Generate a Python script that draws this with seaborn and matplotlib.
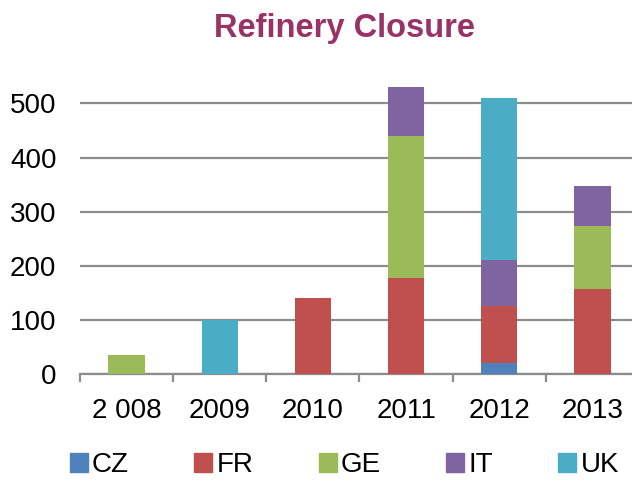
import matplotlib
matplotlib.use("Agg")
import matplotlib.pyplot as plt
import matplotlib.patches as mpatches
import seaborn as sns
import numpy as np
import pandas as pd

# data (bottom-to-top stacking order)
years = ["2 008", "2009", "2010", "2011", "2012", "2013"]
countries = ["CZ", "FR", "GE", "IT", "UK"]
cz = [0, 0, 0, 0, 21, 0]
fr = [0, 0, 140, 178, 104, 158]
ge = [35, 0, 0, 262, 0, 115]
it = [0, 0, 0, 90, 86, 75]
uk = [0, 100, 0, 0, 300, 0]
colors = ["#4F81BD", "#C0504D", "#9BBB59", "#8064A2", "#4BACC6"]

df = pd.DataFrame({"year": years, "CZ": cz, "FR": fr, "GE": ge, "IT": it, "UK": uk})
cum = df[countries].cumsum(axis=1)

sns.set_style("white")
plt.rcParams["font.family"] = ["Liberation Sans", "DejaVu Sans"]
plt.rcParams["text.color"] = "black"
plt.rcParams["xtick.color"] = "black"
plt.rcParams["ytick.color"] = "black"

fig = plt.figure(figsize=(6.32, 4.82), dpi=100)
# right edge runs slightly past the image, as in the reference crop
ax = fig.add_axes([80 / 632, 108 / 482, 559 / 632, 303 / 482])

# overlay cumulative totals, tallest first, so each layer shows as a stack segment
for name, col in reversed(list(zip(countries, colors))):
    sns.barplot(x=df["year"], y=cum[name], color=col, width=0.39,
                saturation=1, ax=ax, zorder=3, linewidth=0)

ax.set_ylim(0, 560)
ax.set_xlim(-0.5, 5.5)
ax.set_yticks([0, 100, 200, 300, 400, 500])
ax.set_xlabel("")
ax.set_ylabel("")
ax.yaxis.grid(True, color="#8c8c8c", linewidth=1.6, zorder=0)
ax.set_axisbelow(True)

for s in ["top", "right", "left"]:
    ax.spines[s].set_visible(False)
ax.spines["bottom"].set_color("#8c8c8c")
ax.spines["bottom"].set_linewidth(1.6)

ax.tick_params(axis="y", length=0, pad=17, labelsize=20, labelcolor="black")
ax.tick_params(axis="x", which="major", length=0, pad=17, labelsize=20,
               labelcolor="black")
ax.set_xticks(np.arange(-0.5, 6.0, 1.0), minor=True)
ax.tick_params(axis="x", which="minor", bottom=True, length=6, width=1.6,
               color="#8c8c8c", direction="out")

fig.text(344 / 632, 1 - 29 / 482, "Refinery Closure", ha="center", va="center",
         fontsize=23.5, fontweight="bold", color="#993366")

handles = [mpatches.Patch(color=c, label=n) for n, c in zip(countries, colors)]
fig.legend(handles=handles, loc="center", bbox_to_anchor=(0.545, 1 - 465 / 482),
           ncol=5, frameon=False, fontsize=20, handlelength=0.65, handleheight=0.65,
           handletextpad=0.15, columnspacing=2.35)

fig.savefig("out.png", dpi=100)
